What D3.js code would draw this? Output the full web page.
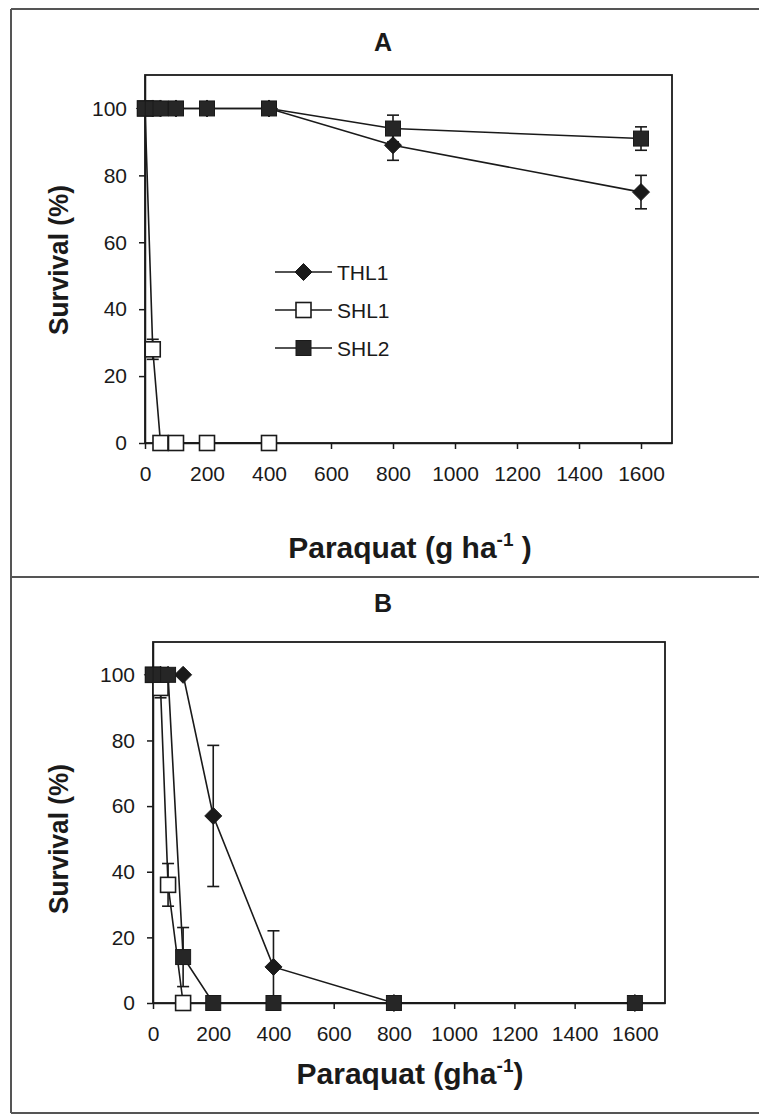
<!DOCTYPE html>
<html lang="en">
<head>
    <meta charset="UTF-8">
    <title>Paraquat survival</title>
    <script src="https://d3js.org/d3.v7.min.js"></script>
    <style>
        body {
            margin: 0;
            background: #fff;
            overflow: hidden;
        }
        svg text {
            font-family: "Liberation Sans", Arial, sans-serif;
            fill: #1a1a1a;
        }
        .tick text {
            font-size: 21px;
        }
        .tick line, .domain {
            stroke: #1a1a1a;
            stroke-width: 1.5;
        }
        .axis-title {
            font-weight: bold;
        }
    </style>
</head>
<body>
<script>
    // doses (g ha-1) and tick values
    const doses = [0, 25, 50, 100, 200, 400, 800, 1600];
    const xTicks = [0, 200, 400, 600, 800, 1000, 1200, 1400, 1600];
    const yTicks = [0, 20, 40, 60, 80, 100];
    const seriesNames = ["THL1", "SHL1", "SHL2"];

    // panel A
    const thl1A = [100, 100, 100, 100, 100, 100, 89, 75];
    const thl1AErr = [0, 0, 0, 0, 0, 0, 4.5, 5];
    const shl1A = [100, 28, 0, 0, 0, 0];
    const shl1AErr = [0, 3, 0, 0, 0, 0];
    const shl2A = [100, 100, 100, 100, 100, 100, 94, 91];
    const shl2AErr = [0, 0, 0, 0, 0, 0, 4, 3.5];

    // panel B
    const thl1B = [100, 100, 100, 100, 57, 11, 0, 0];
    const thl1BErr = [0, 0, 0, 0, 21.5, 11, 0, 0];
    const shl1B = [100, 96, 36, 0];
    const shl1BErr = [0, 3, 6.5, 0];
    const shl2B = [100, 100, 100, 14, 0, 0, 0, 0];
    const shl2BErr = [0, 0, 0, 9, 0, 0, 0, 0];

    const ink = "#1a1a1a";

    const svg = d3.select("body").append("svg")
        .attr("width", 759)
        .attr("height", 1116);

    // outer frame (open on the right) + separator
    const frame = [[11, 9, 759, 9], [11, 9, 11, 1113], [11, 1113, 759, 1113], [11, 577, 759, 577]];
    frame.forEach(f => {
        svg.append("line")
            .attr("x1", f[0]).attr("y1", f[1])
            .attr("x2", f[2]).attr("y2", f[3])
            .attr("stroke", "#555")
            .attr("stroke-width", 2);
    });

    function toPoints(vals, errs) {
        return vals.map((v, i) => ({dose: doses[i], v: v, e: errs[i]}));
    }

    function drawMarker(g, shape, cx, cy, size) {
        const h = size / 2;
        if (shape === "diamond") {
            g.append("path")
                .attr("d", `M${cx},${cy - h - 1}L${cx + h + 1},${cy}L${cx},${cy + h + 1}L${cx - h - 1},${cy}Z`)
                .attr("fill", ink)
                .attr("stroke", ink)
                .attr("stroke-width", 1);
        } else if (shape === "open") {
            g.append("rect")
                .attr("x", cx - h).attr("y", cy - h)
                .attr("width", size).attr("height", size)
                .attr("fill", "#fff")
                .attr("stroke", ink)
                .attr("stroke-width", 1.6);
        } else {
            g.append("rect")
                .attr("x", cx - h).attr("y", cy - h)
                .attr("width", size).attr("height", size)
                .attr("fill", "#262626")
                .attr("stroke", ink)
                .attr("stroke-width", 1);
        }
    }

    function drawPanel(p) {
        const x = d3.scaleLinear().domain([0, 1700]).range([p.left, p.right]);
        const y = d3.scaleLinear().domain([0, 110]).range([p.bottom, p.top]);

        // title
        svg.append("text")
            .attr("x", 383).attr("y", p.titleY)
            .attr("text-anchor", "middle")
            .style("font-size", "25px")
            .style("font-weight", "bold")
            .text(p.title);

        // plot frame
        svg.append("rect")
            .attr("x", p.left).attr("y", p.top)
            .attr("width", p.right - p.left)
            .attr("height", p.bottom - p.top)
            .attr("fill", "none")
            .attr("stroke", ink)
            .attr("stroke-width", 1.8);

        svg.append("g")
            .attr("transform", `translate(0,${p.bottom})`)
            .call(d3.axisBottom(x).tickValues(xTicks).tickFormat(d3.format("d"))
                .tickSize(6).tickSizeOuter(0).tickPadding(17));

        svg.append("g")
            .attr("transform", `translate(${p.left},0)`)
            .call(d3.axisLeft(y).tickValues(yTicks).tickFormat(d3.format("d"))
                .tickSize(6).tickSizeOuter(0).tickPadding(12));

        // y title
        svg.append("text")
            .attr("class", "axis-title")
            .attr("transform", `translate(${p.yTitleX},${p.yTitleY}) rotate(-90)`)
            .attr("text-anchor", "middle")
            .attr("textLength", 150)
            .attr("lengthAdjust", "spacingAndGlyphs")
            .style("font-size", "28px")
            .text("Survival (%)");

        // x title with superscript
        const xt = svg.append("text")
            .attr("class", "axis-title")
            .attr("x", p.xTitleX).attr("y", p.xTitleY)
            .attr("text-anchor", "middle")
            .style("font-size", "30px");
        xt.append("tspan").text(p.xTitleMain);
        xt.append("tspan").attr("dy", -12).style("font-size", "19px").text("-1");
        xt.append("tspan").attr("dy", 12).text(p.xTitleEnd);

        const line = d3.line().x(d => x(d.dose)).y(d => y(d.v));

        p.series.forEach(s => {
            const g = svg.append("g");
            g.append("path")
                .datum(s.points)
                .attr("d", line)
                .attr("fill", "none")
                .attr("stroke", ink)
                .attr("stroke-width", 1.6);

            s.points.filter(d => d.e > 0).forEach(d => {
                const y1 = y(Math.max(0, d.v - d.e)), y2 = y(d.v + d.e);
                g.append("line")
                    .attr("x1", x(d.dose)).attr("x2", x(d.dose))
                    .attr("y1", y1).attr("y2", y2)
                    .attr("stroke", ink).attr("stroke-width", 1.6);
                [y1, y2].forEach(yy => {
                    g.append("line")
                        .attr("x1", x(d.dose) - 6).attr("x2", x(d.dose) + 6)
                        .attr("y1", yy).attr("y2", yy)
                        .attr("stroke", ink).attr("stroke-width", 1.6);
                });
            });

            s.points.forEach(d => drawMarker(g, s.shape, x(d.dose), y(d.v), 15));
        });

        if (p.legend) {
            const shapes = ["diamond", "open", "filled"];
            seriesNames.forEach((name, i) => {
                const ly = 272 + i * 38;
                const g = svg.append("g");
                g.append("line")
                    .attr("x1", 275).attr("x2", 332)
                    .attr("y1", ly).attr("y2", ly)
                    .attr("stroke", ink).attr("stroke-width", 1.6);
                drawMarker(g, shapes[i], 303.5, ly, 15);
                g.append("text")
                    .attr("x", 337).attr("y", ly + 8)
                    .style("font-size", "21px")
                    .text(name);
            });
        }
    }

    drawPanel({
        title: "A", titleY: 51,
        left: 145, right: 672, top: 75, bottom: 443,
        yTitleX: 68, yTitleY: 260,
        xTitleX: 410, xTitleY: 558,
        xTitleMain: "Paraquat (g ha", xTitleEnd: " )",
        legend: true,
        series: [
            {shape: "diamond", points: toPoints(thl1A, thl1AErr)},
            {shape: "open", points: toPoints(shl1A, shl1AErr)},
            {shape: "filled", points: toPoints(shl2A, shl2AErr)}
        ]
    });

    drawPanel({
        title: "B", titleY: 612,
        left: 153, right: 665, top: 642, bottom: 1003,
        yTitleX: 68, yTitleY: 839,
        xTitleX: 410, xTitleY: 1084,
        xTitleMain: "Paraquat (gha", xTitleEnd: ")",
        legend: false,
        series: [
            {shape: "diamond", points: toPoints(thl1B, thl1BErr)},
            {shape: "open", points: toPoints(shl1B, shl1BErr)},
            {shape: "filled", points: toPoints(shl2B, shl2BErr)}
        ]
    });
</script>
</body>
</html>
